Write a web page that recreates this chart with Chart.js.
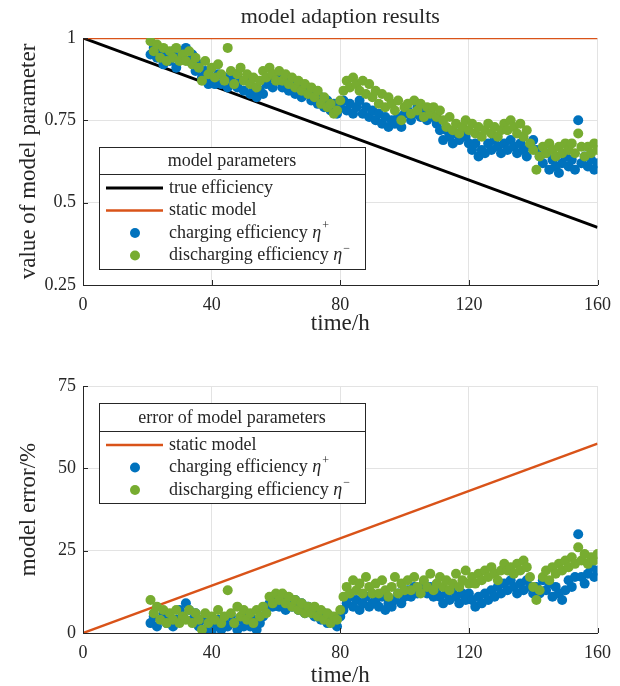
<!DOCTYPE html>
<html>
<head>
<title>model adaption results</title>
<script src="https://cdn.jsdelivr.net/npm/chart.js@4"></script>
<style>
  body { margin: 0; background: #fff; }
  canvas { display: block; }
</style>
</head>
<body>
<canvas id="topChart" width="620" height="343"></canvas>
<canvas id="bottomChart" width="620" height="343"></canvas>
<script>
// time stamps of the adaption points (h)
var timeH = [21,22,23,24,25,26,27,28,29,30,31,32,33,34,35,36,37,38,39,40,
  41,42,43,44,45,46,47,48,49,50,51,52,53,54,55,56,57,58,59,60,
  61,62,63,64,65,66,67,68,69,70,71,72,73,74,75,76,77,78,79,80,
  81,82,83,84,85,86,87,88,89,90,91,92,93,94,95,96,97,98,99,100,
  101,102,103,104,105,106,107,108,109,110,111,112,113,114,115,116,117,118,119,120,
  121,122,123,124,125,126,127,128,129,130,131,132,133,134,135,136,137,138,139,140,
  141,142,143,144,145,146,147,148,149,150,151,152,153,154,155,156,157,158,159,160];

// top chart: adapted parameters
var chargingEff = [0.95,0.97,0.94,0.96,0.92,0.95,0.93,0.96,0.91,0.94,
  0.96,0.97,0.93,0.95,0.90,0.92,0.88,0.90,0.86,0.88,
  0.86,0.89,0.86,0.88,0.85,0.87,0.89,0.85,0.87,0.84,
  0.87,0.83,0.85,0.82,0.84,0.83,0.86,0.88,0.85,0.87,
  0.88,0.85,0.87,0.84,0.86,0.83,0.86,0.82,0.85,0.83,
  0.81,0.83,0.80,0.82,0.79,0.81,0.78,0.80,0.77,0.79,
  0.81,0.78,0.80,0.77,0.79,0.81,0.77,0.79,0.76,0.78,
  0.75,0.77,0.74,0.76,0.73,0.75,0.74,0.76,0.73,0.77,
  0.78,0.75,0.77,0.79,0.76,0.78,0.75,0.77,0.76,0.74,
  0.72,0.69,0.72,0.70,0.68,0.71,0.69,0.72,0.70,0.68,
  0.66,0.68,0.64,0.66,0.65,0.68,0.66,0.69,0.67,0.65,
  0.68,0.66,0.69,0.67,0.65,0.68,0.66,0.64,0.67,0.69,
  0.66,0.64,0.62,0.65,0.60,0.63,0.61,0.59,0.62,0.64,
  0.61,0.63,0.60,0.75,0.62,0.64,0.61,0.63,0.60,0.62];
var dischargingEff = [0.99,0.96,0.98,0.94,0.97,0.93,0.96,0.94,0.97,0.93,
  0.95,0.93,0.96,0.92,0.94,0.91,0.87,0.93,0.89,0.91,
  0.88,0.92,0.89,0.87,0.97,0.90,0.86,0.89,0.91,0.87,
  0.89,0.86,0.88,0.85,0.87,0.90,0.88,0.91,0.89,0.87,
  0.90,0.87,0.89,0.86,0.88,0.85,0.87,0.84,0.86,0.83,
  0.85,0.82,0.84,0.80,0.82,0.79,0.80,0.77,0.78,0.81,
  0.84,0.87,0.85,0.88,0.86,0.84,0.87,0.83,0.86,0.82,
  0.84,0.80,0.83,0.79,0.82,0.80,0.78,0.81,0.75,0.79,
  0.80,0.77,0.81,0.78,0.80,0.76,0.79,0.77,0.79,0.76,
  0.78,0.75,0.73,0.76,0.72,0.74,0.71,0.73,0.75,0.72,
  0.74,0.71,0.73,0.70,0.72,0.74,0.71,0.73,0.70,0.72,
  0.74,0.72,0.75,0.73,0.71,0.74,0.70,0.72,0.68,0.66,
  0.60,0.64,0.67,0.65,0.68,0.66,0.64,0.67,0.65,0.68,
  0.66,0.68,0.65,0.71,0.67,0.64,0.67,0.65,0.68,0.66];
var lineT = [0, 160];
var trueEff = [1, 0.425];
var staticEff = [1, 1];

// bottom chart: model error (%)
var chargingErr = [3,5,2,4,6,3,5,2,4,7,
  5,9,7,4,6,2,4,1,3,0,
  2,4,1,3,2,5,3,1,4,2,
  5,2,4,1,3,5,7,9,8,10,
  8,10,7,9,8,10,7,9,6,8,
  7,5,6,4,6,3,5,4,2,5,
  7,9,11,8,10,7,9,11,8,9,
  10,8,11,7,9,8,10,12,9,11,
  13,11,14,12,13,15,12,14,11,13,
  11,9,12,10,13,11,9,12,10,12,
  10,8,11,9,12,10,13,11,14,12,
  15,13,16,14,12,15,13,16,14,12,
  14,12,16,13,15,11,14,12,10,13,
  16,14,17,30,17,15,18,20,17,19];
var dischargingErr = [10,6,8,4,7,3,6,4,7,3,
  5,4,7,3,6,4,1,6,3,5,
  4,7,3,5,13,6,3,8,5,7,
  4,6,3,7,5,8,6,11,9,12,
  10,12,9,11,8,10,7,9,6,8,
  6,8,5,7,4,6,3,5,4,7,
  11,14,12,16,13,15,12,17,14,12,
  15,12,16,13,11,14,17,12,15,13,
  16,13,17,14,12,16,14,18,13,15,
  17,14,16,13,15,18,14,16,19,15,
  17,15,18,16,19,17,20,18,16,19,
  21,19,20,18,21,19,22,20,17,14,
  10,13,17,19,16,20,18,21,19,22,
  20,23,21,26,22,24,21,23,22,24];
var staticErr = [0, 57.5];

var xTicks = [0, 40, 80, 120, 160];
var yTicksTop = [0.25, 0.5, 0.75, 1];
var yTicksBottom = [0, 25, 50, 75];

var FONT = "'Liberation Serif', 'Times New Roman', serif";
var INK = '#262626';
var BLUE = '#0072BD', ORANGE = '#D95319', GREEN = '#77AC30';

function pts(xs, ys) {
  return xs.map(function (x, i) { return { x: x, y: ys[i] }; });
}

// MATLAB-like boxed legend with a title row
var boxLegend = {
  id: 'boxLegend',
  afterDraw: function (chart, args, opts) {
    var ctx = chart.ctx, a = chart.chartArea;
    var x0 = a.left + opts.dx, y0 = a.top + opts.dy;
    var w = 266, h = opts.height;
    ctx.save();
    ctx.fillStyle = '#fff';
    ctx.fillRect(x0, y0, w, h);
    ctx.strokeStyle = INK;
    ctx.lineWidth = 1;
    ctx.strokeRect(x0 + 0.5, y0 + 0.5, w, h);
    ctx.beginPath();
    ctx.moveTo(x0, y0 + opts.sep + 0.5);
    ctx.lineTo(x0 + w, y0 + opts.sep + 0.5);
    ctx.stroke();
    ctx.fillStyle = INK;
    ctx.font = '18px ' + FONT;
    ctx.textAlign = 'center';
    ctx.textBaseline = 'middle';
    ctx.fillText(opts.title, x0 + w / 2, y0 + opts.sep / 2 + 1);
    ctx.textAlign = 'left';
    opts.items.forEach(function (it, i) {
      var y = y0 + opts.sep + 14 + i * 22.5;
      if (it.line) {
        ctx.strokeStyle = it.color;
        ctx.lineWidth = it.width;
        ctx.beginPath();
        ctx.moveTo(x0 + 7, y);
        ctx.lineTo(x0 + 64, y);
        ctx.stroke();
      } else {
        ctx.fillStyle = it.color;
        ctx.beginPath();
        ctx.arc(x0 + 36, y, 5, 0, Math.PI * 2);
        ctx.fill();
      }
      ctx.fillStyle = INK;
      ctx.font = '18px ' + FONT;
      var tx = x0 + 70;
      ctx.fillText(it.text, tx, y);
      if (it.sup) {
        tx += ctx.measureText(it.text + ' ').width;
        ctx.font = 'italic 18px ' + FONT;
        ctx.fillText('\u03b7', tx, y);
        tx += ctx.measureText('\u03b7').width + 1;
        ctx.font = '12px ' + FONT;
        ctx.fillText(it.sup, tx, y - 7);
      }
    });
    ctx.restore();
  }
};

// inward tick marks and plot title
var axisDecor = {
  id: 'axisDecor',
  afterDatasetsDraw: function (chart, args, opts) {
    var ctx = chart.ctx, a = chart.chartArea;
    var xs = chart.scales.x, ys = chart.scales.y;
    ctx.save();
    ctx.strokeStyle = INK;
    ctx.lineWidth = 1;
    ctx.beginPath();
    xs.ticks.forEach(function (t) {
      var px = Math.round(xs.getPixelForValue(t.value)) + 0.5;
      ctx.moveTo(px, a.bottom);
      ctx.lineTo(px, a.bottom - 5);
    });
    ys.ticks.forEach(function (t) {
      var py = Math.round(ys.getPixelForValue(t.value)) + 0.5;
      ctx.moveTo(a.left, py);
      ctx.lineTo(a.left + 5, py);
    });
    ctx.stroke();
    if (opts.title) {
      ctx.fillStyle = INK;
      ctx.font = '22px ' + FONT;
      ctx.textAlign = 'center';
      ctx.textBaseline = 'middle';
      ctx.fillText(opts.title, (a.left + a.right) / 2, 17);
    }
    ctx.restore();
  }
};

function makeChart(id, datasets, yTicks, yMin, yMax, yTitle, layout, legendOpts, title) {
  return new Chart(document.getElementById(id).getContext('2d'), {
    type: 'scatter',
    data: { datasets: datasets },
    plugins: [axisDecor, boxLegend],
    options: {
      responsive: false,
      animation: false,
      layout: { padding: { top: layout.top, right: 14, bottom: 0, left: 0 } },
      plugins: {
        legend: { display: false },
        tooltip: { enabled: false },
        boxLegend: legendOpts,
        axisDecor: { title: title }
      },
      scales: {
        x: {
          type: 'linear', min: 0, max: 160,
          afterBuildTicks: function (s) { s.ticks = xTicks.map(function (v) { return { value: v }; }); },
          afterFit: function (s) { s.height = layout.xh; },
          grid: { color: '#e3e3e3', drawTicks: false },
          border: { color: INK, width: 1 },
          ticks: { color: INK, font: { family: FONT, size: 18 }, padding: 9, maxRotation: 0, autoSkip: false },
          title: { display: true, text: 'time/h', color: INK, font: { family: FONT, size: 23 }, padding: { top: 0, bottom: layout.titlePad } }
        },
        y: {
          type: 'linear', min: yMin, max: yMax,
          afterBuildTicks: function (s) { s.ticks = yTicks.map(function (v) { return { value: v }; }); },
          afterFit: function (s) { s.width = 83; },
          grid: { color: '#e3e3e3', drawTicks: false },
          border: { color: INK, width: 1 },
          ticks: { color: INK, font: { family: FONT, size: 18 }, padding: 7, callback: function (v) { return String(v); } },
          title: { display: true, text: yTitle, color: INK, font: { family: FONT, size: 23 }, padding: { top: 15, bottom: 0 } }
        }
      }
    }
  });
}

var lineStyle = { showLine: true, pointRadius: 0, fill: false };
var R = 5;

makeChart('topChart', [
  { label: 'discharging efficiency', data: pts(timeH, dischargingEff), backgroundColor: GREEN, borderColor: GREEN, pointRadius: R, borderWidth: 0, order: 0 },
  { label: 'charging efficiency', data: pts(timeH, chargingEff), backgroundColor: BLUE, borderColor: BLUE, pointRadius: R, borderWidth: 0, order: 1 },
  Object.assign({ label: 'static model', data: pts(lineT, staticEff), borderColor: ORANGE, borderWidth: 2.5, order: 2 }, lineStyle),
  Object.assign({ label: 'true efficiency', data: pts(lineT, trueEff), borderColor: '#000', borderWidth: 3, order: 3 }, lineStyle)
], yTicksTop, 0.25, 1, 'value of model parameter',
  { top: 38, xh: 58, titlePad: 5 },
  { dx: 16, dy: 109, height: 122, sep: 27, title: 'model parameters', items: [
    { line: true, color: '#000', width: 3, text: 'true efficiency' },
    { line: true, color: ORANGE, width: 2.5, text: 'static model' },
    { color: BLUE, text: 'charging efficiency', sup: '+' },
    { color: GREEN, text: 'discharging efficiency', sup: '\u2212' }
  ] }, 'model adaption results');

makeChart('bottomChart', [
  { label: 'discharging efficiency', data: pts(timeH, dischargingErr), backgroundColor: GREEN, borderColor: GREEN, pointRadius: R, borderWidth: 0, order: 0 },
  { label: 'charging efficiency', data: pts(timeH, chargingErr), backgroundColor: BLUE, borderColor: BLUE, pointRadius: R, borderWidth: 0, order: 1 },
  Object.assign({ label: 'static model', data: pts(lineT, staticErr), borderColor: ORANGE, borderWidth: 2.5, order: 2 }, lineStyle)
], yTicksBottom, 0, 75, 'model error/%',
  { top: 43, xh: 53, titlePad: -4 },
  { dx: 16, dy: 17, height: 100, sep: 28, title: 'error of model parameters', items: [
    { line: true, color: ORANGE, width: 2.5, text: 'static model' },
    { color: BLUE, text: 'charging efficiency', sup: '+' },
    { color: GREEN, text: 'discharging efficiency', sup: '\u2212' }
  ] }, null);
</script>
</body>
</html>
